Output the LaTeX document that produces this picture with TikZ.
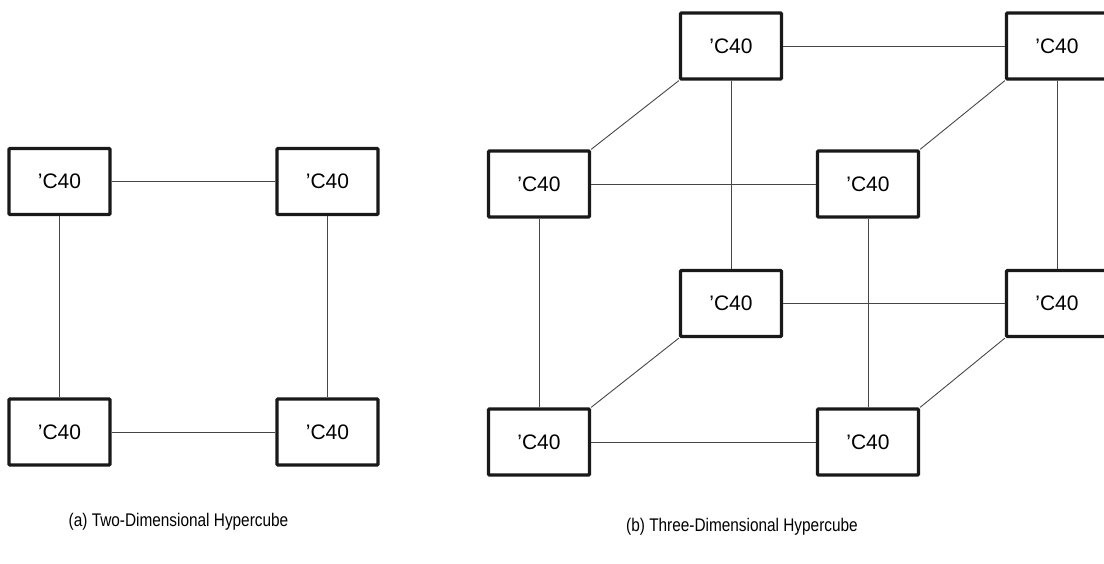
\documentclass[tikz,border=0pt]{standalone}
\usepackage{fontspec}
\setmainfont{Liberation Sans}
\newfontfamily\capfont[FakeStretch=0.84]{Liberation Sans}
\begin{document}
\begin{tikzpicture}[x=1pt,y=-1pt,
  cpu/.style={draw=black!90,line width=3.2pt,rounded corners=1pt,minimum width=101pt,minimum height=66pt,inner sep=0pt,font=\fontsize{21}{24}\selectfont,fill=white},
  link/.style={draw=black!72,line width=0.9pt},
  captext/.style={font=\capfont\fontsize{18.3}{20}\selectfont,inner sep=0pt}]
\useasboundingbox (0,0) rectangle (1104,564);
% 2D hypercube
\node[cpu] (tl) at (59.5,181.5) {'C40};
\node[cpu] (tr) at (327.5,181.5) {'C40};
\node[cpu] (bl) at (59.5,432) {'C40};
\node[cpu] (br) at (327.5,432) {'C40};
\draw[link] (tl) -- (tr);
\draw[link] (bl) -- (br);
\draw[link] (tl) -- (bl);
\draw[link] (tr) -- (br);
% 3D hypercube
\node[cpu] (a) at (731,46) {'C40};
\node[cpu] (b) at (1057,46) {'C40};
\node[cpu] (c) at (539,184) {'C40};
\node[cpu] (d) at (868,184) {'C40};
\node[cpu] (e) at (731,303.5) {'C40};
\node[cpu] (f) at (1057,303.5) {'C40};
\node[cpu] (g) at (539,442) {'C40};
\node[cpu] (h) at (868,442) {'C40};
\draw[link] (a) -- (b);
\draw[link] (c) -- (d);
\draw[link] (e) -- (f);
\draw[link] (g) -- (h);
\draw[link] (a) -- (e);
\draw[link] (b) -- (f);
\draw[link] (c) -- (g);
\draw[link] (d) -- (h);
\draw[link] (a.south west) -- (c.north east);
\draw[link] (b.south west) -- (d.north east);
\draw[link] (e.south west) -- (g.north east);
\draw[link] (f.south west) -- (h.north east);
% captions
\node[captext] (capa) at (178.5,522) {(a) Two-Dimensional Hypercube};
\node[captext] (capb) at (742,527) {(b) Three-Dimensional Hypercube};
\end{tikzpicture}
\end{document}
